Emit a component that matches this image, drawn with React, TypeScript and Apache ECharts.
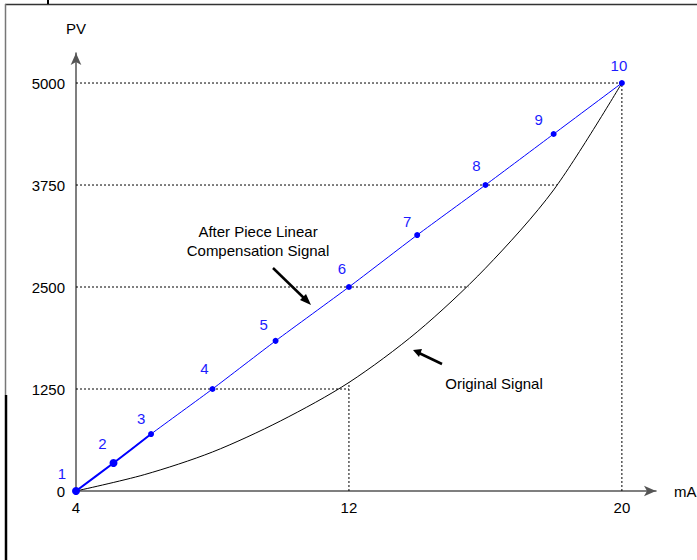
import React, { useEffect, useRef } from "react";
import * as echarts from "echarts";

// Compensated (piece-linear) signal: mA vs PV
const pointNames = ["1", "2", "3", "4", "5", "6", "7", "8", "9", "10"];
const compensatedMa = [4, 5.1, 6.2, 8, 9.85, 12, 14, 16, 18, 20];
const compensatedPv = [0, 343, 698, 1250, 1840, 2500, 3137, 3750, 4375, 5000];

// Original signal curve
const originalMa = [4, 6, 8, 10, 12, 14, 16, 18, 20];
const originalPv = [0, 200, 478, 860, 1330, 1950, 2730, 3690, 5000];

// Guide lines (dashed)
const guideLines: [number, number, number, number][] = [
  [4, 5000, 20, 5000],
  [4, 3750, 18.1, 3750],
  [4, 2500, 15.5, 2500],
  [4, 1250, 12, 1250],
  [12, 0, 12, 1330],
  [20, 0, 20, 5000],
];

const xTicks = [4, 12, 20];
const yTicks = [0, 1250, 2500, 3750, 5000];

const labelNudges = [
  [-14, -1], [-11, -3], [-10, 0], [-8, -5], [-12, -1],
  [-7, -3], [-10, 2], [-9, -4], [-15, 1], [-3, -2],
];

const FONT = "'Liberation Sans', Arial, sans-serif";
const FS = 15;

export default function App() {
  const ref = useRef<HTMLDivElement>(null);
  useEffect(() => {
    if (!ref.current) return;
    const chart = echarts.init(ref.current, null, { renderer: "svg" });
    const blue = "#0000ff";
    const guideSeries = guideLines.map((g) => ({
      type: "line",
      data: [[g[0], g[1]], [g[2], g[3]]],
      symbol: "none",
      silent: true,
      z: 1,
      lineStyle: { color: "#000", width: 1, type: [2, 2] },
    }));
    const option: any = {
      animation: false,
      grid: { left: 76, right: 41, top: 53, bottom: 69, outerBoundsMode: "none", containLabel: false },
      xAxis: {
        type: "value",
        min: 4,
        max: 21.0,
        name: "mA",
        nameLocation: "end",
        nameGap: 18,
        nameTextStyle: { color: "#000", fontSize: FS, fontFamily: FONT },
        axisLine: {
          show: true,
          symbol: ["none", "arrow"],
          symbolSize: [8, 12],
          lineStyle: { color: "#555", width: 1.5 },
        },
        axisTick: { show: false },
        splitLine: { show: false },
        axisLabel: {
          customValues: xTicks,
          color: "#000",
          fontSize: FS,
          fontFamily: FONT,
          margin: 9,
          formatter: (v: number) => String(v),
        },
      },
      yAxis: {
        type: "value",
        min: 0,
        max: 5368,
        name: "PV",
        nameLocation: "end",
        nameGap: 17,
        nameTextStyle: { color: "#000", fontSize: FS, fontFamily: FONT },
        axisLine: {
          show: true,
          symbol: ["none", "arrow"],
          symbolSize: [8, 12],
          lineStyle: { color: "#555", width: 1.5 },
        },
        axisTick: { show: false },
        splitLine: { show: false },
        axisLabel: {
          customValues: yTicks,
          color: "#000",
          fontSize: FS,
          fontFamily: FONT,
          margin: 11,
          formatter: (v: number) => String(v),
        },
      },
      series: [
        ...guideSeries,
        {
          type: "line",
          data: originalMa.map((x, i) => [x, originalPv[i]]),
          smooth: 0.3,
          symbol: "none",
          z: 2,
          lineStyle: { color: "#000", width: 1 },
        },
        {
          type: "line",
          data: compensatedMa.slice(0, 3).map((x, i) => [x, compensatedPv[i]]),
          smooth: 0.2,
          symbol: "none",
          z: 3,
          lineStyle: { color: blue, width: 2 },
        },
        {
          type: "line",
          data: compensatedMa.map((x, i) => ({
            value: [x, compensatedPv[i]],
            symbolSize: i < 2 ? 8 : 6,
            label: { offset: labelNudges[i] },
          })),
          smooth: 0.2,
          symbol: "circle",
          z: 4,
          itemStyle: { color: blue },
          lineStyle: { color: blue, width: 1 },
          label: {
            show: true,
            position: "top",
            color: "#1c1cff",
            fontSize: FS,
            fontFamily: FONT,
            formatter: (p: any) => pointNames[p.dataIndex],
          },
        },
      ],
      graphic: [
        // frame
        { type: "line", shape: { x1: 5, y1: 4.5, x2: 697, y2: 4.5 }, style: { stroke: "#333", lineWidth: 1.5 } },
        { type: "line", shape: { x1: 5.5, y1: 4, x2: 5.5, y2: 395 }, style: { stroke: "#777", lineWidth: 1.5 } },
        { type: "line", shape: { x1: 6, y1: 395, x2: 6, y2: 560 }, style: { stroke: "#000", lineWidth: 2.5 } },
        { type: "line", shape: { x1: 48, y1: 0, x2: 48, y2: 4 }, style: { stroke: "#000", lineWidth: 2 } },
        // annotations
        {
          type: "text",
          x: 258,
          y: 241,
          style: {
            text: "After Piece Linear\nCompensation Signal",
            fill: "#000",
            font: FS + "px " + FONT,
            align: "center",
            verticalAlign: "middle",
            lineHeight: 19,
          },
        },
        { type: "line", shape: { x1: 273, y1: 268, x2: 306, y2: 300 }, style: { stroke: "#000", lineWidth: 2.5 } },
        { type: "polygon", shape: { points: [[311, 305], [300, 300], [306, 294]] }, style: { fill: "#000" } },
        {
          type: "text",
          x: 494,
          y: 383,
          style: {
            text: "Original Signal",
            fill: "#000",
            font: FS + "px " + FONT,
            align: "center",
            verticalAlign: "middle",
          },
        },
        { type: "line", shape: { x1: 442, y1: 364, x2: 419, y2: 353 }, style: { stroke: "#000", lineWidth: 2.5 } },
        { type: "polygon", shape: { points: [[413, 350], [422, 349], [419, 357]] }, style: { fill: "#000" } },
      ],
    };
    chart.setOption(option);
    return () => chart.dispose();
  }, []);
  return (
    <div
      ref={ref}
      style={{ position: "fixed", left: 0, top: 0, width: 697, height: 560, background: "#fff" }}
    />
  );
}
